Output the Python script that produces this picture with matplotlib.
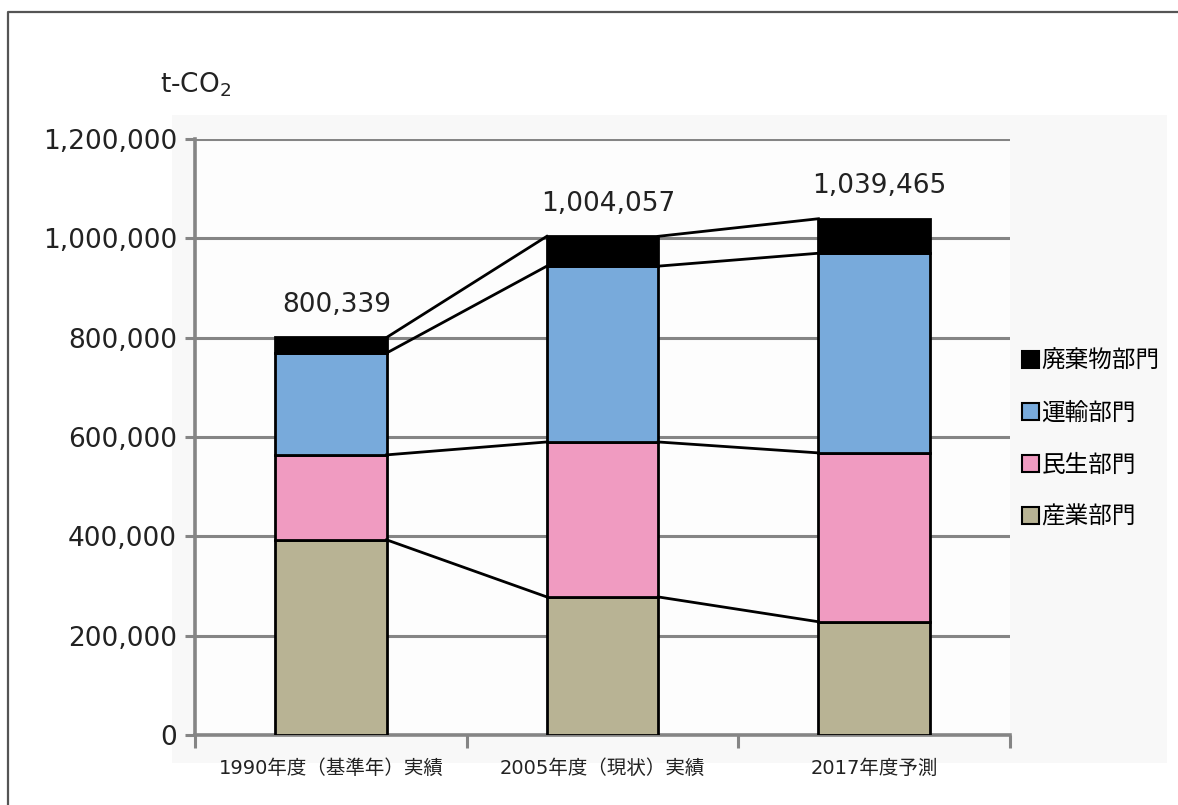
import numpy as np
import matplotlib
matplotlib.use("Agg")
import matplotlib.pyplot as plt
from matplotlib.patches import Patch, Rectangle
from matplotlib.lines import Line2D

plt.rcParams['font.family'] = ['DejaVu Sans', 'Noto Sans CJK JP']

# data (t-CO2)
categories = ["1990年度（基準年）実績", "2005年度（現状）実績", "2017年度予測"]
industry = [393000, 278000, 228000]      # 産業部門
residential = [171000, 312000, 340000]   # 民生部門
transport = [205000, 354000, 402000]     # 運輸部門
waste = [31339, 60057, 69465]            # 廃棄物部門
totals = ["800,339", "1,004,057", "1,039,465"]

series = [industry, residential, transport, waste]
names = ["産業部門", "民生部門", "運輸部門", "廃棄物部門"]
colors = ["#b8b394", "#f09bc1", "#78aadb", "#000000"]

yticks = [0, 200000, 400000, 600000, 800000, 1000000, 1200000]

fig = plt.figure(figsize=(11.78, 8.05), dpi=100)

# faint panel behind the plot + partial frame
panel = Rectangle((172 / 1178, 1 - 763 / 805), (1167 - 172) / 1178, (763 - 115) / 805,
                  transform=fig.transFigure, facecolor="#f8f8f8", edgecolor="none", zorder=-10)
fig.patches.append(panel)
fig.lines.append(Line2D([8 / 1178, 8 / 1178, 1.0], [0.0, 1 - 12 / 805, 1 - 12 / 805],
                        transform=fig.transFigure, color="#555555", lw=1.6, zorder=-10))

ax = fig.add_axes([195 / 1178, 1 - 735 / 805, (1010 - 195) / 1178, (735 - 139) / 805])
ax.set_zorder(1)
ax.set_facecolor("#fdfdfd")

xs = np.arange(len(categories))
bw = 0.41
bottom = np.zeros(len(categories))
tops = []
for vals, name, col in zip(series, names, colors):
    ax.bar(xs, vals, bw, bottom=bottom, color=col, edgecolor="black", linewidth=2.0, zorder=3)
    bottom = bottom + np.array(vals)
    tops.append(bottom.copy())

# connector lines between adjacent bars
for t in tops:
    for i in range(len(xs) - 1):
        ax.plot([xs[i] + bw / 2, xs[i + 1] - bw / 2], [t[i], t[i + 1]],
                color="black", lw=2.0, zorder=4)

# total labels
for i, lab in enumerate(totals):
    ax.annotate(lab, (xs[i], tops[-1][i]), xytext=(4, 14), textcoords="offset points",
                ha="center", va="bottom", fontsize=19, color="#222222")

ax.set_xlim(-0.5, 2.5)
ax.set_ylim(0, 1200000)
ax.set_yticks(yticks)
ax.set_yticklabels(["{:,}".format(v) for v in yticks])
ax.yaxis.grid(True, color="#858585", lw=2.2, zorder=1)
ax.set_axisbelow(True)

ax.set_xticks(xs)
ax.set_xticklabels(categories)
ax.set_xticks([-0.5, 0.5, 1.5, 2.5], minor=True)
ax.tick_params(axis="x", which="major", length=0, pad=17, labelsize=14, labelcolor="#222222")
ax.tick_params(axis="x", which="minor", length=9, width=2.2, color="#858585")
ax.tick_params(axis="y", length=7, width=2.2, color="#858585", pad=6, labelsize=19, labelcolor="#222222")

for s in ["top", "right"]:
    ax.spines[s].set_visible(False)
for s in ["left", "bottom"]:
    ax.spines[s].set_color("#858585")
    ax.spines[s].set_linewidth(2.6)

fig.text(160 / 1178, 1 - 85 / 805, r"t-CO$_\mathregular{2}$", fontsize=19, color="#222222",
         ha="left", va="center")

hs = [Patch(facecolor=c, edgecolor="black", linewidth=1.5) for c in colors[::-1]]
fig.legend(hs, names[::-1], loc="upper left", bbox_to_anchor=(1022 / 1178, 1 - 349 / 805),
           frameon=False, fontsize=17, handlelength=0.7, handleheight=0.7,
           handletextpad=0.12, labelspacing=1.18, borderpad=0, borderaxespad=0)

fig.savefig("out.png", dpi=100)
